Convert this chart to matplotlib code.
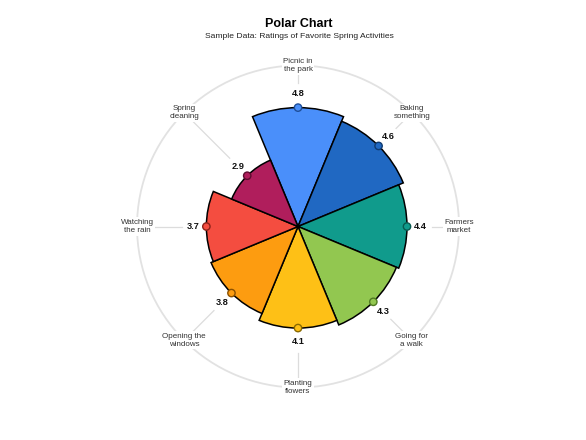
import numpy as np
import matplotlib.pyplot as plt

plt.rcParams['font.family'] = ['Liberation Sans', 'DejaVu Sans']

# Data
activities = ["Picnic in\nthe park", "Baking\nsomething", "Farmers\nmarket", "Going for\na walk",
              "Planting\nflowers", "Opening the\nwindows", "Watching\nthe rain", "Spring\ncleaning"]
ratings = [4.8, 4.6, 4.4, 4.3, 4.1, 3.8, 3.7, 2.9]
colors = ["#4a8ffa", "#2068c2", "#109b8c", "#92c750", "#fec016", "#fd9c10", "#f44d40", "#b01e5c"]
edge_colors = ["#1f4f99", "#0f3a70", "#075a50", "#4f7a22", "#8a6a00", "#8a5000", "#8a2018", "#5e0c30"]

r_max = 6.5

fig = plt.figure(figsize=(5.86, 4.4), dpi=100)
ax = fig.add_axes([0.2338, 0.1193, 0.5495, 0.7318], projection='polar')
ax.set_theta_zero_location('N')
ax.set_theta_direction(-1)

n = len(ratings)
theta = np.arange(n) * 2 * np.pi / n
width = 2 * np.pi / n

ax.bar(theta, ratings, width=width, color=colors, edgecolor='black', linewidth=1.1, zorder=3)
ax.scatter(theta, ratings, s=28, c=colors, edgecolors=edge_colors, linewidths=1.0, zorder=5)

# spokes from value labels out to the category labels
for t, v in zip(theta, ratings):
    ax.plot([t, t], [v + 1.0, r_max], color='#dcdcdc', lw=0.9, zorder=1)
    ax.text(t, v + 0.55, f"{v}", ha='center', va='center', fontsize=6.6,
            fontweight='bold', color='#111111', zorder=6)

for t, lab in zip(theta, activities):
    ax.text(t, r_max, lab, ha='center', va='center', fontsize=5.8, color='#333333',
            linespacing=1.2, zorder=4,
            bbox=dict(boxstyle='square,pad=0.2', fc='white', ec='none'))

ax.set_ylim(0, r_max)
ax.set_xticks([])
ax.set_yticks([])
ax.grid(False)
ax.spines['polar'].set_color('#e2e2e2')
ax.spines['polar'].set_linewidth(1.3)

fig.text(0.509, 0.945, "Polar Chart", ha='center', va='center', fontsize=9, fontweight='bold')
fig.text(0.511, 0.917, "Sample Data: Ratings of Favorite Spring Activities", ha='center', va='center',
         fontsize=6.1, color='#222222')

fig.savefig('out.png', dpi=100)
